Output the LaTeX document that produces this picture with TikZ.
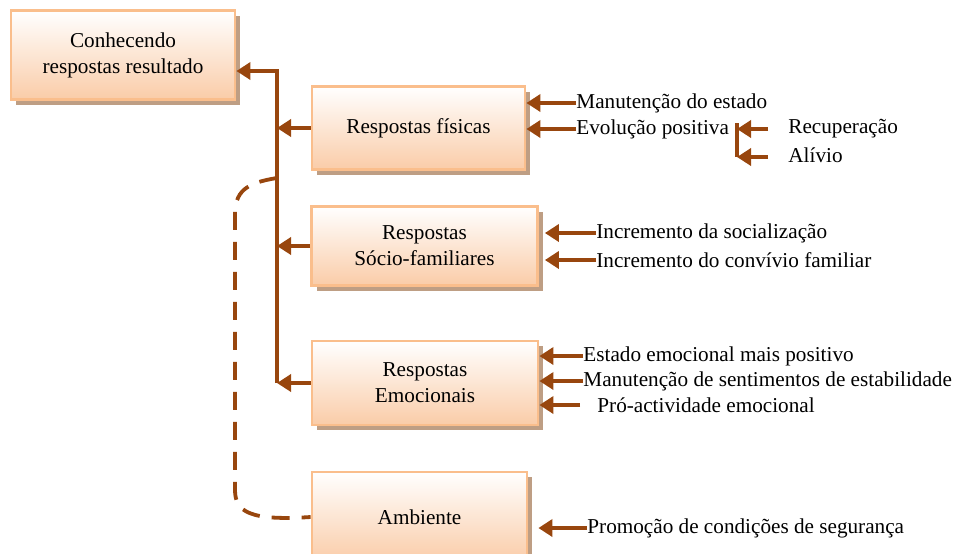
\documentclass[tikz,border=0pt]{standalone}
\usepackage{fontspec}
\setmainfont{Liberation Serif}
\usetikzlibrary{arrows.meta,shadows}

\definecolor{marrom}{RGB}{152,70,14}
\definecolor{borda}{RGB}{250,190,140}
\definecolor{fundo}{RGB}{250,204,168}
\definecolor{sombra}{RGB}{190,158,132}

\tikzset{
  caixa/.style={draw=borda, line width=1.4pt, top color=white, bottom color=fundo,
    align=center, inner sep=0pt,
    drop shadow={shadow xshift=2.6pt, shadow yshift=-2.6pt, fill=sombra, opacity=1}},
  seta/.style={draw=marrom, line width=1.9pt, -{Triangle[length=7pt,width=8.5pt]}},
  linha/.style={draw=marrom, line width=1.9pt},
  tracejado/.style={draw=marrom, line width=1.9pt, dash pattern=on 9pt off 6pt},
  item/.style={anchor=west, inner sep=0pt},
}

\begin{document}
\begin{tikzpicture}[x=0.5pt,y=-0.5pt,font=\fontsize{10.6}{13}\selectfont]
  \useasboundingbox (0,0) rectangle (956,553);

  % caixas
  \node[caixa, minimum width=112pt, minimum height=44.5pt] (conh) at (123,55) {Conhecendo\\respostas resultado};
  \node[caixa, minimum width=106.5pt, minimum height=41.5pt] (fis) at (418.5,128) {Respostas físicas};
  \node[caixa, minimum width=113pt, minimum height=39.5pt] (soc) at (424.5,246) {Respostas\\Sócio-familiares};
  \node[caixa, minimum width=113pt, minimum height=42pt] (emo) at (425,383) {Respostas\\Emocionais};
  \node[caixa, minimum width=107.5pt, minimum height=45pt] (amb) at (419.5,517) {Ambiente};

  % eixo central
  \coordinate (topo) at (277,71);
  \draw[seta] (emo.west -| topo) -- (topo) -- (conh.east |- topo);
  \draw[seta] (fis.west) -- (fis.west -| topo);
  \draw[seta] (soc.west) -- (soc.west -| topo);
  \draw[seta] (emo.west) -- (emo.west -| topo);

  % ambiente
  \coordinate (d0) at (277,178);
  \draw[tracejado] (d0) .. controls (245,183) and (235,192) .. (235,215) -- (235,490)
    .. controls (235,512) and (250,521) .. (amb.west);

  % respostas fisicas
  \node[item] (man) at (576,103) {Manutenção do estado};
  \node[item] (evo) at (576,129) {Evolução positiva};
  \node[item] (rec) at (788,129) {Recuperação};
  \node[item] (ali) at (788,155) {Alívio};
  \draw[seta] (man.west) -- (man.west -| fis.east);
  \draw[seta] (evo.west) -- (evo.west -| fis.east);
  \coordinate (col) at (737,123);
  \coordinate (rec0) at (768,129);
  \coordinate (ali0) at (768,157);
  \draw[linha] (col) -- (ali0 -| col);
  \draw[seta] (rec0) -- (rec0 -| col);
  \draw[seta] (ali0) -- (ali0 -| col);

  % respostas socio-familiares
  \node[item] (inc1) at (596,233) {Incremento da socialização};
  \node[item] (inc2) at (596,260) {Incremento do convívio familiar};
  \draw[seta] (inc1.west) -- ([xshift=3pt]inc1.west -| soc.east);
  \draw[seta] (inc2.west) -- ([xshift=3pt]inc2.west -| soc.east);

  % respostas emocionais
  \node[item] (est) at (583,356) {Estado emocional mais positivo};
  \node[item] (sen) at (583,381) {Manutenção de sentimentos de estabilidade};
  \node[item] (pro) at (597,405) {Pró-actividade emocional};
  \coordinate (pro0) at (580,405);
  \draw[seta] (est.west) -- (est.west -| emo.east);
  \draw[seta] (sen.west) -- (sen.west -| emo.east);
  \draw[seta] (pro0) -- (pro0 -| emo.east);

  % ambiente
  \node[item] (seg) at (587,528) {Promoção de condições de segurança};
  \draw[seta] (seg.west) -- ([xshift=5pt]seg.west -| amb.east);
\end{tikzpicture}
\end{document}
